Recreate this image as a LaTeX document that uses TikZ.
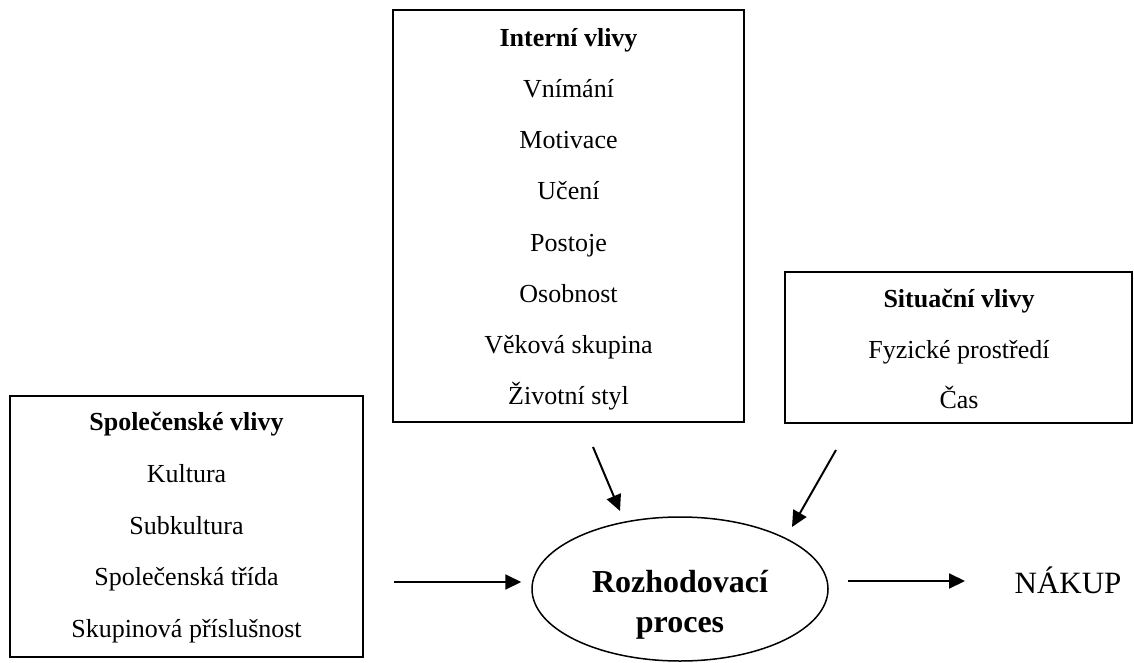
\documentclass[tikz,border=0pt]{standalone}
\usepackage{fontspec}
\setmainfont{Liberation Serif}
\usetikzlibrary{arrows.meta,shapes.geometric,calc}
\begin{document}
\begin{tikzpicture}[x=1pt,y=-1pt,
  box/.style={draw,line width=1.9pt,inner sep=0pt},
  txt/.style={anchor=base,inner sep=0pt,font=\fontsize{26}{30}\selectfont},
  ttl/.style={anchor=base,inner sep=0pt,font=\fontsize{26}{30}\selectfont\bfseries},
  big/.style={anchor=base,inner sep=0pt,font=\fontsize{32}{38}\selectfont\bfseries},
  arr/.style={line width=2pt,-{Triangle[length=16pt,width=15pt]}}]
\useasboundingbox (0,0) rectangle (1134,663);
% boxes
\node[box,minimum width=351pt,minimum height=412pt] (int) at (568.5,216) {};
\node[box,minimum width=347pt,minimum height=151pt] (sit) at (958.5,347.5) {};
\node[box,minimum width=353pt,minimum height=261pt] (spo) at (186.5,526.5) {};
% Interni
\node[ttl] (i0) at (568.5,47) {Interní vlivy};
\node[txt] (i1) at (568.5,98) {Vnímání};
\node[txt] (i2) at (568.5,149) {Motivace};
\node[txt] (i3) at (568.5,200) {Učení};
\node[txt] (i4) at (568.5,251) {Postoje};
\node[txt] (i5) at (568.5,302) {Osobnost};
\node[txt] (i6) at (568.5,353) {Věková skupina};
\node[txt] (i7) at (568.5,404) {Životní styl};
% Situacni
\node[ttl] (s0) at (959,307) {Situační vlivy};
\node[txt] (s1) at (959,358) {Fyzické prostředí};
\node[txt] (s2) at (959,408) {Čas};
% Spolecenske
\node[ttl] (p0) at (186.5,430) {Společenské vlivy};
\node[txt] (p1) at (186.5,482) {Kultura};
\node[txt] (p2) at (186.5,534) {Subkultura};
\node[txt] (p3) at (186.5,585) {Společenská třída};
\node[txt] (p4) at (186.5,637) {Skupinová příslušnost};
% decision process
\node[draw,ellipse,line width=1.5pt,minimum width=296pt,minimum height=144pt,inner sep=0pt] (dp) at (680,589) {};
\node[big] (dp1) at (680,592) {Rozhodovací};
\node[big] (dp2) at (680,632) {proces};
\node[anchor=base,inner sep=0pt,font=\fontsize{31}{36}\selectfont] (nak) at (1068,593) {NÁKUP};
% connector end points
\coordinate (a1s) at ($(spo.east)+(30,55.5)$);
\coordinate (a1e) at ($(dp.west)+(-10,-7)$);
\coordinate (a2s) at (593,447);
\coordinate (a2e) at (620,511);
\coordinate (a3s) at (836,450);
\coordinate (a3e) at (792,527);
\coordinate (a4s) at (848,581);
\coordinate (a4e) at (965,581);
\draw[arr] (a1s) -- (a1e);
\draw[arr] (a2s) -- (a2e);
\draw[arr] (a3s) -- (a3e);
\draw[arr] (a4s) -- (a4e);
\end{tikzpicture}
\end{document}
